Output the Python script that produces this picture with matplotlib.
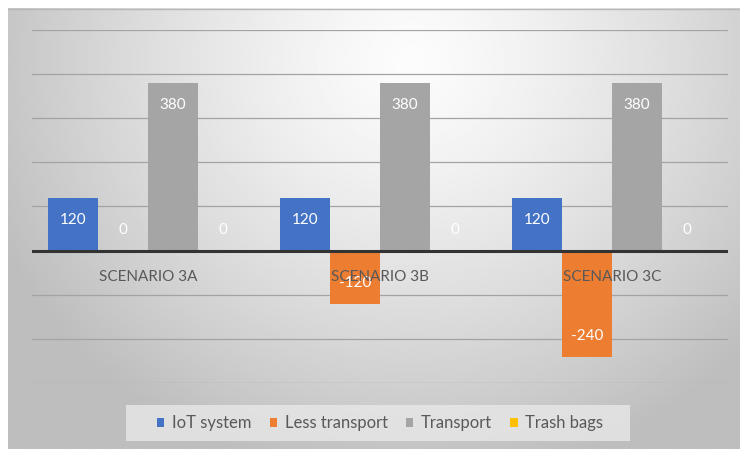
import numpy as np
import matplotlib.pyplot as plt
from matplotlib.patches import Patch, Rectangle

plt.rcParams['font.family'] = ['Lato', 'DejaVu Sans']

# data
scenarios = ['SCENARIO 3A', 'SCENARIO 3B', 'SCENARIO 3C']
series = ['IoT system', 'Less transport', 'Transport', 'Trash bags']
iot_system = [120, 120, 120]
less_transport = [0, -120, -240]
transport = [380, 380, 380]
trash_bags = [0, 0, 0]
colors = ['#4472C4', '#ED7D31', '#A5A5A5', '#FFC000']

W, H = 740, 449
fig = plt.figure(figsize=(W / 100, H / 100), dpi=100)
fig.patch.set_facecolor('white')

# radial grey background of the chart area
bg = fig.add_axes([8 / W, -0.01, (W - 8) / W, (H - 8) / H + 0.01])
gx, gy = np.meshgrid(np.linspace(0, 1, 300), np.linspace(0, 1, 200))
d = np.sqrt(((gx - 0.55) / 0.62) ** 2 + ((gy - 0.12) / 0.95) ** 2)
shade = 252 - 62 * np.clip(d, 0, 1) ** 1.3
bg.imshow(shade, cmap='gray', vmin=0, vmax=255, aspect='auto',
          extent=[0, 1, 1, 0], interpolation='bilinear')
bg.axis('off')
bg.plot([0, 1], [0.9985, 0.9985], color='#b8b8b8', lw=1, transform=bg.transAxes)

ax = fig.add_axes([32 / W, 1 - 383 / H, 696 / W, 353 / H])
ax.patch.set_alpha(0)

values = [iot_system, less_transport, transport, trash_bags]
x = np.arange(len(scenarios))
bw = 0.215
for k, (vals, col) in enumerate(zip(values, colors)):
    pos = x + (k - 1.5) * bw
    ax.bar(pos, vals, width=bw, color=col, zorder=2)
    for px, v in zip(pos, vals):
        off = -16 if v > 0 else 14.5
        ax.annotate(str(v), (px, v), xytext=(0, off), textcoords='offset points',
                    ha='center', va='center', color='white', fontsize=11, zorder=4)

ax.set_ylim(-300, 500)
ax.set_xlim(-0.5, 2.5)
for gy_ in range(-300, 501, 100):
    if gy_ != 0:
        ax.axhline(gy_, color='#a3a3a3', lw=0.9, zorder=1)
ax.axhline(0, color='#333333', lw=2.2, zorder=3)

for i, name in enumerate(scenarios):
    ax.annotate(name, (i, 0), xytext=(0, -19), textcoords='offset points',
                ha='center', va='center', color='#595959', fontsize=11, zorder=5)

ax.set_xticks([])
ax.set_yticks([])
for s in ax.spines.values():
    s.set_visible(False)

# legend box
fig.patches.append(Rectangle((126 / W, 1 - 441 / H), 504 / W, 36 / H,
                             transform=fig.transFigure, facecolor='#e8e8e8',
                             edgecolor='none', alpha=0.8, zorder=0))
handles = [Patch(facecolor=c, edgecolor='none') for c in colors]
leg = fig.legend(handles, series, loc='center', bbox_to_anchor=(380 / W, 1 - 423 / H),
                 ncol=4, frameon=False, fontsize=12, handlelength=0.45, handleheight=0.45,
                 handletextpad=0.45, columnspacing=1.1)
for t in leg.get_texts():
    t.set_color('#595959')

fig.savefig('out.png', dpi=100)
